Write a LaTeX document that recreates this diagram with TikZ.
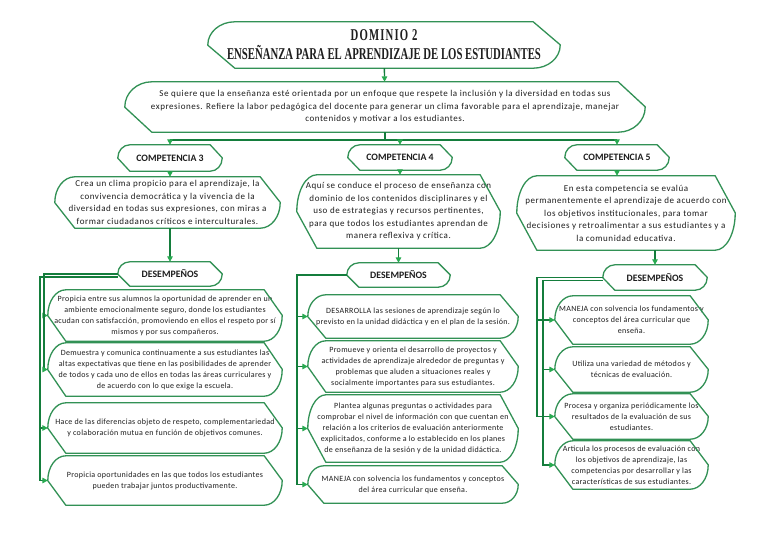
\documentclass[tikz,border=0pt]{standalone}
\usepackage{fontspec}
\setmainfont{Carlito}
\newfontfamily\titlefont[FakeStretch=0.65]{Liberation Serif}
\newfontfamily\domfont[FakeStretch=0.65,LetterSpace=7]{Liberation Serif}
\newfontfamily\midfont[LetterSpace=6]{Carlito}
\newfontfamily\smallfont[LetterSpace=4]{Carlito}
\usetikzlibrary{calc,arrows.meta}
\definecolor{gline}{RGB}{50,145,85}
\definecolor{garr}{RGB}{20,125,60}
\definecolor{ghead}{RGB}{40,170,80}
\definecolor{txt}{RGB}{30,30,30}
\newcommand\srbox[3]{%
\draw[boxl] ($(#1.south west)+(0,#3)$) -- ($(#1.north west)+(0,-#3)$) .. controls ($(#1.north west)+(0,-0.448*#3)$) and ($(#1.north west)+(0.448*#2,0)$) .. ($(#1.north west)+(#2,0)$) -- ($(#1.north east)+(-#2,0)$) -- ($(#1.north east)+(0,-#3)$) -- ($(#1.south east)+(0,#3)$) .. controls ($(#1.south east)+(0,0.448*#3)$) and ($(#1.south east)+(-0.448*#2,0)$) .. ($(#1.south east)+(-#2,0)$) -- ($(#1.south west)+(#2,0)$) -- cycle;}
\tikzset{
 boxl/.style={draw=gline, line width=1.3pt, line join=round},
 conn/.style={draw=garr, line width=1.4pt},
 arr/.style={conn, -{Triangle[length=5.5pt,width=5.5pt,fill=ghead,color=ghead]}},
 tb/.style={inner sep=0pt, align=center, text=txt},
 small/.style={tb, font=\smallfont\fontsize{8}{11}\selectfont},
 mid/.style={tb, font=\midfont\fontsize{9}{12.5}\selectfont},
 head/.style={tb, font=\bfseries\fontsize{9.8}{11}\selectfont},
 ttl/.style={tb, font=\titlefont\bfseries\fontsize{16.5}{19}\selectfont},
}
\begin{document}
\begin{tikzpicture}[x=1pt,y=1pt]
\fill[white] (0,0) rectangle (768,-543);
\useasboundingbox (0,0) rectangle (768,-543);
% title and intro
\node[ttl, minimum width=352pt, minimum height=46pt] (title) at (384,-45) {{\domfont\bfseries DOMINIO 2}\\ENSEÑANZA PARA EL APRENDIZAJE DE LOS ESTUDIANTES};
\node[mid, minimum width=520pt, minimum height=50pt] (sq) at (385,-107) {Se quiere que la enseñanza esté orientada por un enfoque que respete la inclusión y la diversidad en todas sus\\expresiones. Refiere la labor pedagógica del docente para generar un clima favorable para el aprendizaje, manejar\\contenidos y motivar a los estudiantes.};
% competencias
\node[head, minimum width=104pt, minimum height=26pt] (c3) at (170,-158) {COMPETENCIA 3};
\node[head, minimum width=104pt, minimum height=25pt] (c4) at (400,-157.5) {COMPETENCIA 4};
\node[head, minimum width=104pt, minimum height=25pt] (c5) at (617,-157.5) {COMPETENCIA 5};
\node[mid, minimum width=225pt, minimum height=51pt] (d3) at (167.5,-202.5) {Crea un clima propicio para el aprendizaje, la\\convivencia democrática y la vivencia de la\\diversidad en todas sus expresiones, con miras a\\formar ciudadanos críticos e interculturales.};
\node[mid, minimum width=203pt, minimum height=73pt] (d4) at (398.5,-211.5) {Aquí se conduce el proceso de enseñanza con\\dominio de los contenidos disciplinares y el\\uso de estrategias y recursos pertinentes,\\para que todos los estudiantes aprendan de\\manera reflexiva y crítica.};
\node[mid, minimum width=218pt, minimum height=74pt] (d5) at (626,-213) {En esta competencia se evalúa\\permanentemente el aprendizaje de acuerdo con\\los objetivos institucionales, para tomar\\decisiones y retroalimentar a sus estudiantes y a\\la comunidad educativa.};
% desempenos
\node[head, minimum width=104pt, minimum height=24pt] (e3) at (170,-274) {DESEMPEÑOS};
\node[head, minimum width=103pt, minimum height=24pt] (e4) at (398.5,-275) {DESEMPEÑOS};
\node[head, minimum width=104pt, minimum height=25pt] (e5) at (655,-277.5) {DESEMPEÑOS};
% column 3
\node[small, minimum width=234pt, minimum height=51pt] (b3a) at (165,-315.5) {Propicia entre sus alumnos la oportunidad de aprender en un\\ambiente emocionalmente seguro, donde los estudiantes\\acudan con satisfacción, promoviendo en ellos el respeto por sí\\mismos y por sus compañeros.};
\node[small, minimum width=234pt, minimum height=53pt] (b3b) at (165,-369.5) {Demuestra y comunica continuamente a sus estudiantes las\\altas expectativas que tiene en las posibilidades de aprender\\de todos y cada uno de ellos en todas las áreas curriculares y\\de acuerdo con lo que exige la escuela.};
\node[small, minimum width=234pt, minimum height=50pt] (b3c) at (165,-428) {Hace de las diferencias objeto de respeto, complementariedad\\y colaboración mutua en función de objetivos comunes.};
\node[small, minimum width=234pt, minimum height=49pt] (b3d) at (165,-480.5) {Propicia oportunidades en las que todos los estudiantes\\pueden trabajar juntos productivamente.};
% column 4
\node[small, minimum width=210pt, minimum height=43pt] (b4a) at (413,-316.5) {DESARROLLA las sesiones de aprendizaje según lo\\previsto en la unidad didáctica y en el plan de la sesión.};
\node[small, minimum width=210pt, minimum height=51pt] (b4b) at (413,-366.5) {Promueve y orienta el desarrollo de proyectos y\\actividades de aprendizaje alrededor de preguntas y\\problemas que aluden a situaciones reales y\\socialmente importantes para sus estudiantes.};
\node[small, minimum width=210pt, minimum height=67pt] (b4c) at (413,-428.5) {Plantea algunas preguntas o actividades para\\comprobar el nivel de información con que cuentan en\\relación a los criterios de evaluación anteriormente\\explicitados, conforme a lo establecido en los planes\\de enseñanza de la sesión y de la unidad didáctica.};
\node[small, minimum width=210pt, minimum height=37pt] (b4d) at (413,-484.5) {MANEJA con solvencia los fundamentos y conceptos\\del área curricular que enseña.};
% column 5
\node[small, minimum width=153pt, minimum height=48pt] (b5a) at (631.5,-320) {MANEJA con solvencia los fundamentos y\\conceptos del área curricular que\\enseña.};
\node[small, minimum width=153pt, minimum height=45pt] (b5b) at (631.5,-369.5) {Utiliza una variedad de métodos y\\técnicas de evaluación.};
\node[small, minimum width=153pt, minimum height=45pt] (b5c) at (631.5,-416.5) {Procesa y organiza periódicamente los\\resultados de la evaluación de sus\\estudiantes.};
\node[small, minimum width=153pt, minimum height=48pt] (b5d) at (631.5,-465) {Articula los procesos de evaluación con\\los objetivos de aprendizaje, las\\competencias por desarrollar y las\\características de sus estudiantes.};
% shapes
\srbox{title}{27}{23}
\srbox{sq}{27}{25}
\srbox{c3}{12}{13}
\srbox{c4}{12}{12.5}
\srbox{c5}{12}{12.5}
\srbox{d3}{20}{25.5}
\srbox{d4}{20}{36.5}
\srbox{d5}{20}{37}
\srbox{e3}{12}{12}
\srbox{e4}{12}{12}
\srbox{e5}{12}{12.5}
\srbox{b3a}{18}{25.5}
\srbox{b3b}{18}{26.5}
\srbox{b3c}{18}{25}
\srbox{b3d}{18}{24.5}
\srbox{b4a}{18}{21.5}
\srbox{b4b}{18}{25.5}
\srbox{b4c}{18}{33.5}
\srbox{b4d}{16}{18.5}
\srbox{b5a}{18}{24}
\srbox{b5b}{18}{22.5}
\srbox{b5c}{18}{22.5}
\srbox{b5d}{18}{24}
% connectors
\coordinate (j) at (385,-140);
\coordinate (x3a) at (44,0);
\coordinate (x3b) at (40,0);
\coordinate (x4) at (297,0);
\coordinate (x5a) at (537,0);
\coordinate (x5b) at (543,0);
\draw[arr] (title) -- (sq);
\draw[conn] (sq.south) -- (j);
\draw[conn] (c3.north |- j) -- (c5.north |- j);
\draw[arr] (c3.north |- j) -- (c3.north);
\draw[arr] (c4.north |- j) -- (c4.north);
\draw[arr] (c5.north |- j) -- (c5.north);
\draw[arr] (c3.south) -- (c3.south |- d3.north);
\draw[arr] (c4.south) -- (c4.south |- d4.north);
\draw[arr] (c5.south) -- (c5.south |- d5.north);
\draw[arr] (e3.north |- d3.south) -- (e3.north);
\draw[arr] (e4.north |- d4.south) -- (e4.north);
\draw[arr] (e5.north |- d5.south) -- (e5.north);
\draw[arr] (e3.west) -- (e3.west -| x3a) |- (b3a.west);
\draw[arr] (e3.west) -- (e3.west -| x3a) |- (b3b.west);
\draw[arr] ($(e3.west)+(0,-3)$) -- ($(e3.west -| x3b)+(0,-3)$) |- (b3c.west);
\draw[arr] ($(e3.west)+(0,-3)$) -- ($(e3.west -| x3b)+(0,-3)$) |- (b3d.west);
\draw[arr] (e4.west) -- (e4.west -| x4) |- (b4a.west);
\draw[arr] (e4.west) -- (e4.west -| x4) |- (b4b.west);
\draw[arr] (e4.west) -- (e4.west -| x4) |- (b4c.west);
\draw[arr] (e4.west) -- (e4.west -| x4) |- (b4d.west);
\draw[arr] (e5.west) -- (e5.west -| x5a) |- (b5a.west);
\draw[arr] ($(e5.west)+(0,-3)$) -- ($(e5.west -| x5b)+(0,-3)$) |- (b5b.west);
\draw[arr] (e5.west) -- (e5.west -| x5a) |- (b5c.west);
\draw[arr] ($(e5.west)+(0,-3)$) -- ($(e5.west -| x5b)+(0,-3)$) |- (b5d.west);
\end{tikzpicture}
\end{document}
